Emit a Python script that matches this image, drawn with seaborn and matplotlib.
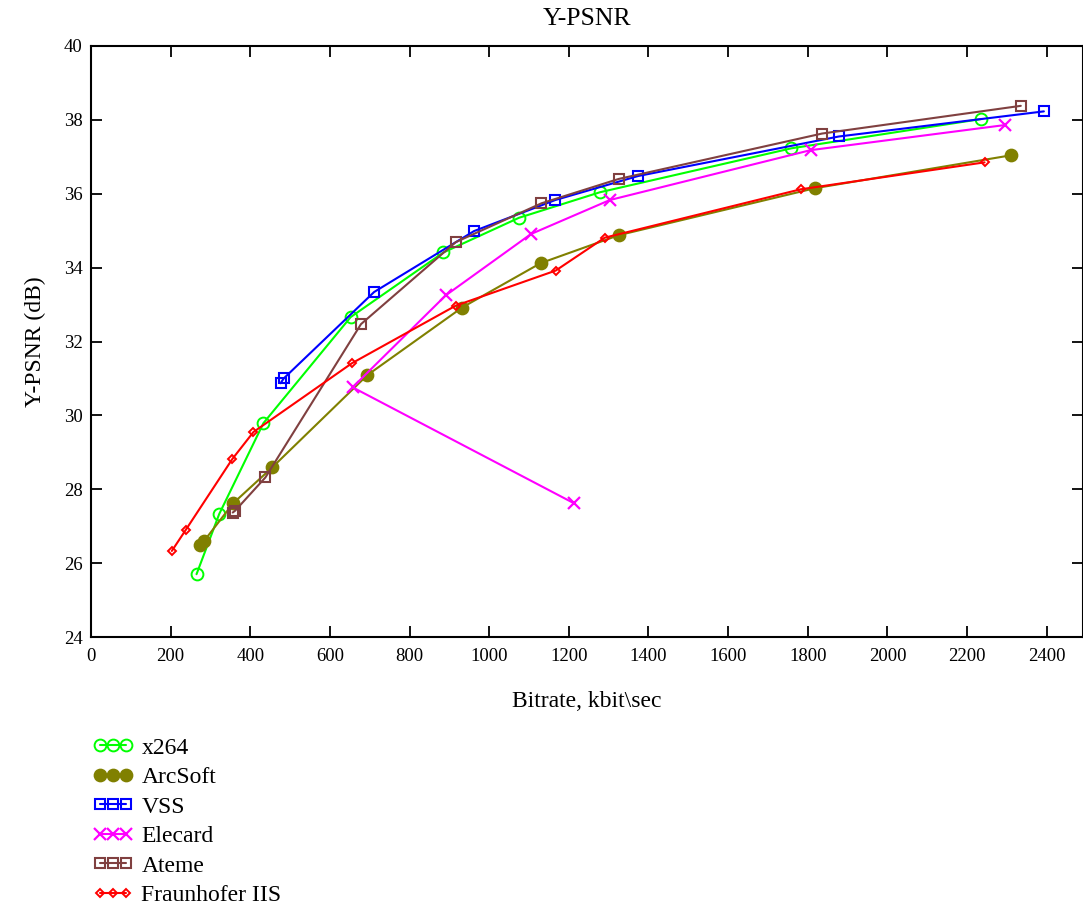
import matplotlib
matplotlib.use("Agg")
import matplotlib.pyplot as plt
import seaborn as sns
import numpy as np

# ---- data ----
x264_rate = [265, 322, 433, 652, 885, 1075, 1278, 1759, 2234]
x264_psnr = [25.70, 27.33, 29.79, 32.66, 34.41, 35.35, 36.04, 37.23, 38.02]

arcsoft_rate = [274, 284, 357, 455, 694, 932, 1129, 1326, 1818, 2310]
arcsoft_psnr = [26.49, 26.60, 27.62, 28.59, 31.09, 32.92, 34.12, 34.88, 36.15, 37.04]

vss_rate = [476, 484, 711, 962, 1166, 1374, 1878, 2393]
vss_psnr = [30.87, 31.00, 33.34, 34.99, 35.83, 36.48, 37.55, 38.23]

elecard_rate = [1213, 657, 891, 1105, 1303, 1807, 2295]
elecard_psnr = [27.62, 30.76, 33.25, 34.91, 35.83, 37.18, 37.86]

ateme_rate = [356, 362, 438, 678, 916, 1131, 1325, 1836, 2335]
ateme_psnr = [27.37, 27.42, 28.32, 32.47, 34.69, 35.74, 36.40, 37.63, 38.38]

fraunhofer_rate = [203, 238, 355, 408, 655, 916, 1167, 1290, 1782, 2244]
fraunhofer_psnr = [26.33, 26.90, 28.82, 29.55, 31.41, 32.97, 33.92, 34.81, 36.12, 36.85]

series_names = ["x264", "ArcSoft", "VSS", "Elecard", "Ateme", "Fraunhofer IIS"]
x_ticks = [0, 200, 400, 600, 800, 1000, 1200, 1400, 1600, 1800, 2000, 2200, 2400]
y_ticks = [24, 26, 28, 30, 32, 34, 36, 38, 40]

# ---- style ----
sns.set_style("ticks")
plt.rcParams["font.family"] = ["Liberation Serif", "DejaVu Serif"]
for k in ["text.color", "axes.labelcolor", "xtick.color", "ytick.color", "axes.edgecolor"]:
    plt.rcParams[k] = "black"

fig = plt.figure(figsize=(10.83, 9.08), dpi=100)
ax = fig.add_axes([91 / 1083, 1 - 637 / 908, (1082.5 - 91) / 1083, (637 - 46) / 908])

styles = [
    (x264_rate, x264_psnr, "#00FF00", "o", "none", 8.5, 1.4),
    (arcsoft_rate, arcsoft_psnr, "#808000", "o", "#808000", 8.5, 1.4),
    (vss_rate, vss_psnr, "#0000FF", "s", "none", 6.8, 1.5),
    (elecard_rate, elecard_psnr, "#FF00FF", "x", "none", 9.0, 1.6),
    (ateme_rate, ateme_psnr, "#804040", "s", "none", 6.8, 1.5),
    (fraunhofer_rate, fraunhofer_psnr, "#FF0000", "D", "none", 4.2, 1.4),
]

handles = []
for name, (xs, ys, col, mk, mfc, ms, mew) in zip(series_names, styles):
    sns.lineplot(x=np.array(xs), y=np.array(ys), ax=ax, color=col, marker=mk,
                 markerfacecolor=mfc, markeredgecolor=col, markersize=ms,
                 markeredgewidth=mew, linewidth=1.5, sort=False, estimator=None,
                 label=name)
    handles.append(ax.get_lines()[-1])

if ax.get_legend() is not None:
    ax.get_legend().remove()

ax.set_xlim(0, 2490)
ax.set_ylim(24, 40)
ax.set_xticks(x_ticks)
ax.set_yticks(y_ticks)
ax.tick_params(direction="in", length=8, width=1.3, labelsize=13.5,
               top=True, right=True, pad=6, colors="black")
ax.tick_params(axis="x", pad=8)
for s in ax.spines.values():
    s.set_visible(True)
    s.set_linewidth(1.5)
    s.set_color("black")

ax.set_title("Y-PSNR", fontsize=18.5, pad=15)
ax.set_xlabel("Bitrate, kbit\\sec", fontsize=17, labelpad=19)
ax.set_ylabel("Y-PSNR (dB)", fontsize=17, labelpad=13)

fig.legend(handles=handles, labels=series_names, loc="upper left",
           bbox_to_anchor=(93 / 1083, 1 - 737 / 908), frameon=False,
           fontsize=17, numpoints=3, handlelength=1.7, handletextpad=0.35,
           labelspacing=0.34, borderpad=0, borderaxespad=0)

fig.savefig("out.png", dpi=100)
